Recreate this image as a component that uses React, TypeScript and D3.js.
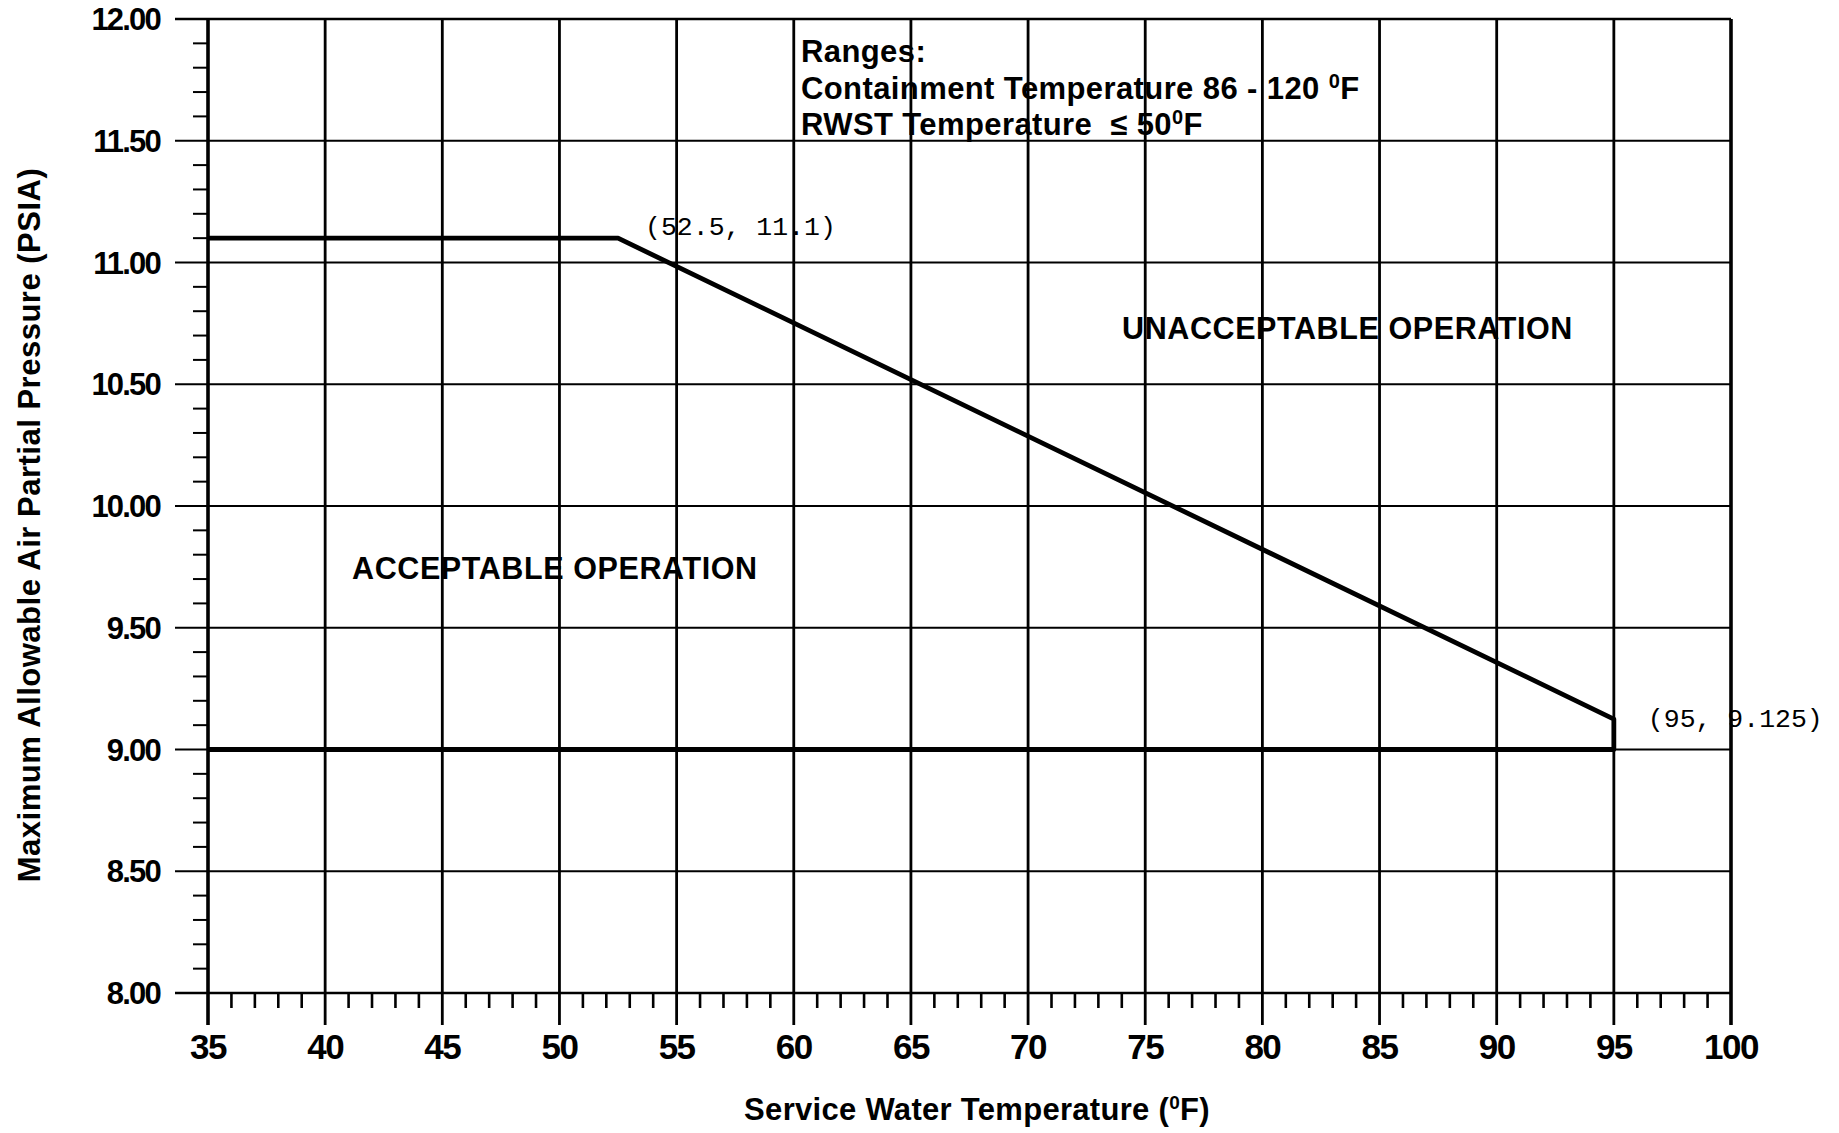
import React, { useEffect, useRef } from "react"
import * as d3 from "d3"

const xTicks = [35, 40, 45, 50, 55, 60, 65, 70, 75, 80, 85, 90, 95, 100]
const yTicks = [8.0, 8.5, 9.0, 9.5, 10.0, 10.5, 11.0, 11.5, 12.0]
const yTickLabels = ["8.00", "8.50", "9.00", "9.50", "10.00", "10.50", "11.00", "11.50", "12.00"]

// limit curve (service water temp, max air partial pressure)
const limitX = [35, 52.5, 95, 95, 35]
const limitY = [11.1, 11.1, 9.125, 9.0, 9.0]

const pointLabels = ["(52.5, 11.1)", "(95, 9.125)"]
const pointLabelX = [52.5, 95]
const pointLabelY = [11.1, 9.125]

const rangeLines = ["Ranges:", "Containment Temperature 86 - 120 ", "RWST Temperature  \u2264 50"]

const W = 1839
const H = 1133
const SANS = "'Liberation Sans', Arial, Helvetica, sans-serif"

export default function App() {
	const ref = useRef<SVGSVGElement>(null)

	useEffect(() => {
		const svg = d3.select(ref.current)
		svg.selectAll("*").remove()

		const x = d3.scaleLinear().domain([35, 100]).range([208, 1731])
		const y = d3.scaleLinear().domain([8, 12]).range([993, 19])

		const g = svg.append("g")

		// minor ticks
		const xMinor = d3.range(36, 100).filter(d => d % 5 !== 0)
		g.selectAll("line.xminor")
			.data(xMinor)
			.enter()
			.append("line")
			.attr("x1", d => x(d))
			.attr("x2", d => x(d))
			.attr("y1", y(8))
			.attr("y2", y(8) + 15)
			.attr("stroke", "#000")
			.attr("stroke-width", 2.6)

		const yMinor = d3.range(81, 120).filter(d => d % 5 !== 0).map(d => d / 10)
		g.selectAll("line.yminor")
			.data(yMinor)
			.enter()
			.append("line")
			.attr("x1", x(35) - 15)
			.attr("x2", x(35))
			.attr("y1", d => y(d))
			.attr("y2", d => y(d))
			.attr("stroke", "#000")
			.attr("stroke-width", 2)

		// horizontal grid lines + major y ticks
		g.selectAll("line.hgrid")
			.data(yTicks)
			.enter()
			.append("line")
			.attr("x1", x(35) - 33)
			.attr("x2", x(100))
			.attr("y1", d => y(d))
			.attr("y2", d => y(d))
			.attr("stroke", "#000")
			.attr("stroke-width", d => (d === 8 || d === 12 ? 2.6 : 1.8))

		// vertical grid lines + major x ticks
		g.selectAll("line.vgrid")
			.data(xTicks)
			.enter()
			.append("line")
			.attr("x1", d => x(d))
			.attr("x2", d => x(d))
			.attr("y1", y(12))
			.attr("y2", y(8) + 32)
			.attr("stroke", "#000")
			.attr("stroke-width", d => (d === 35 || d === 100 ? 3.6 : 2.8))

		// x tick labels
		g.selectAll("text.xlab")
			.data(xTicks)
			.enter()
			.append("text")
			.attr("x", d => x(d))
			.attr("y", 1059)
			.attr("text-anchor", "middle")
			.attr("font-family", SANS)
			.attr("font-weight", "bold")
			.attr("font-size", 35)
			.attr("letter-spacing", -1.5)
			.text(d => d)

		// y tick labels
		g.selectAll("text.ylab")
			.data(yTicks)
			.enter()
			.append("text")
			.attr("x", 160)
			.attr("y", d => y(d))
			.attr("dy", "0.36em")
			.attr("text-anchor", "end")
			.attr("font-family", SANS)
			.attr("font-weight", "bold")
			.attr("font-size", 31)
			.attr("letter-spacing", -1.8)
			.text((d, i) => yTickLabels[i])

		// limit curve
		const line = d3
			.line<number>()
			.x((d, i) => x(limitX[i]))
			.y((d, i) => y(limitY[i]))
		g.append("path")
			.datum(limitX)
			.attr("d", line)
			.attr("fill", "none")
			.attr("stroke", "#000")
			.attr("stroke-width", 4.8)
			.attr("stroke-linejoin", "round")

		// point labels
		g.selectAll("text.pt")
			.data(pointLabels)
			.enter()
			.append("text")
			.attr("x", (d, i) => x(pointLabelX[i]) + (i === 0 ? 27 : 34))
			.attr("y", (d, i) => y(pointLabelY[i]) - (i === 0 ? 3 : -8))
			.attr("font-family", "'Liberation Mono', 'Courier New', monospace")
			.attr("font-size", 26.5)
			.attr("xml:space", "preserve")
			.text(d => d)

		// region labels
		g.append("text")
			.attr("x", 352)
			.attr("y", 579)
			.attr("font-family", SANS)
			.attr("font-weight", "bold")
			.attr("font-size", 30.5)
			.attr("letter-spacing", 0.6)
			.text("ACCEPTABLE OPERATION")
		g.append("text")
			.attr("x", 1122)
			.attr("y", 339)
			.attr("font-family", SANS)
			.attr("font-weight", "bold")
			.attr("font-size", 30.5)
			.attr("letter-spacing", 0.6)
			.text("UNACCEPTABLE OPERATION")

		// ranges note
		rangeLines.forEach((txt, i) => {
			const t = g
				.append("text")
				.attr("x", 801)
				.attr("y", 62 + i * 36.5)
				.attr("font-family", SANS)
				.attr("font-weight", "bold")
				.attr("font-size", 31)
				.attr("letter-spacing", 0.4)
				.attr("xml:space", "preserve")
			t.append("tspan").text(txt)
			if (i > 0) {
				t.append("tspan").attr("font-size", 20).attr("dy", -11).text("0")
				t.append("tspan").attr("dy", 11).text("F")
			}
		})

		// axis titles
		const xt = g
			.append("text")
			.attr("x", 977)
			.attr("y", 1120)
			.attr("text-anchor", "middle")
			.attr("font-family", SANS)
			.attr("font-weight", "bold")
			.attr("font-size", 31)
			.attr("letter-spacing", 0.3)
		xt.append("tspan").text("Service Water Temperature (")
		xt.append("tspan").attr("font-size", 19).attr("dy", -11).text("0")
		xt.append("tspan").attr("dy", 11).text("F)")

		g.append("text")
			.attr("transform", "translate(40,525) rotate(-90)")
			.attr("text-anchor", "middle")
			.attr("font-family", SANS)
			.attr("font-weight", "bold")
			.attr("font-size", 31)
			.attr("letter-spacing", 0.5)
			.text("Maximum Allowable Air Partial Pressure (PSIA)")
	}, [])

	return (
		<svg
			ref={ref}
			width={W}
			height={H}
			style={{ position: "absolute", left: 0, top: 0, background: "#fff" }}
		/>
	)
}
